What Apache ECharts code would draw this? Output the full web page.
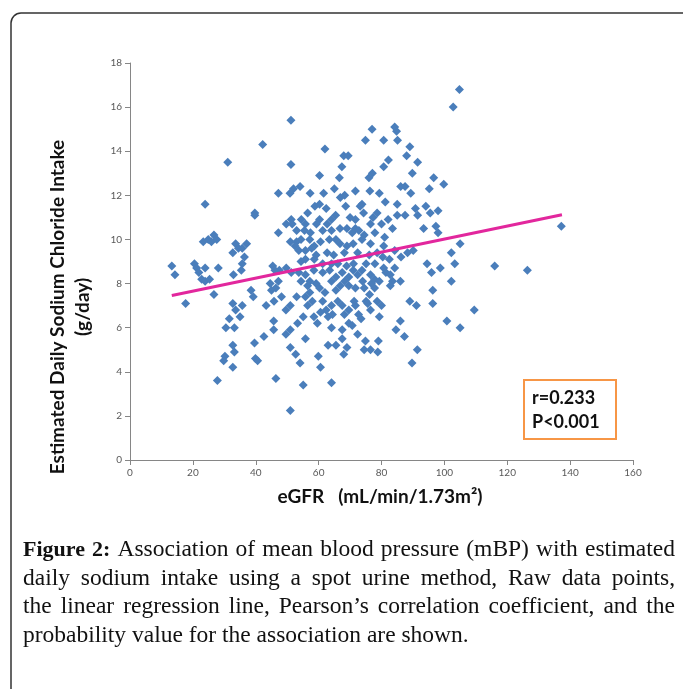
<!DOCTYPE html>
<html><head><meta charset="utf-8">
<script src="https://cdn.jsdelivr.net/npm/echarts@6/dist/echarts.min.js"></script>
<style>html,body{margin:0;padding:0;background:#fff;}#c{width:683px;height:689px;}</style>
</head><body><div id="c"></div>
<script>
// eGFR values (x) and estimated daily NaCl intake (y)
const egfr = [104.8,102.8,51.2,84.2,84.8,77,74.9,80.7,85.1,42.2,62,89,31.1,51.2,68,69.4,88,91.5,82.2,80.7,67.4,77.1,89.8,60.3,96.6,99.8,66.6,76,86.1,87.5,52,54.1,65,71.7,76.3,79.3,47.2,57.3,50.9,61.6,89.3,95.2,66.9,68.3,23.9,81.2,85,73.8,73.2,58.8,60.3,62.4,68.6,94.1,98,39.7,39.7,56.5,65.4,70,74.3,78.6,77.3,85,87.5,90.8,91.5,95.5,54.5,51.3,49.7,51.6,60.3,71.7,82.1,76.5,80,137.2,93.4,97.3,98,47.2,53,55.5,57.4,61.3,64.1,66.8,71.7,72.8,70.7,81,26.7,24.9,27.6,23.3,25.9,33.6,37.1,34.5,32.7,35.7,51,53,52.5,54.4,57.2,58.6,60.6,63.4,65.5,66.8,69,71,73.8,76.5,80.7,105,102.2,103.3,90.1,88.3,84.2,53.7,55.8,57.8,59.2,62.7,64.8,68.2,72.4,76.1,78.6,80.4,82.5,86.2,94.5,98.7,95.9,116,126.4,13.3,14.3,17.7,20.5,21.2,21.9,23.9,22.8,23.9,25.3,28.1,26.7,32.9,35.7,35.4,38.5,39.2,32.7,33.6,35.7,35,31.6,30.5,33.2,32.7,33.2,30.2,29.8,32.7,27.8,39.6,39.9,40.6,42.6,46.4,45.7,45.7,49.6,51,51,52.7,54.1,55.1,51,53.3,55.8,55.1,59.9,60.6,64.1,64.1,63,65.5,67.5,68,69,67.5,69.6,72.4,74.9,74.5,76.5,79,78.8,84.6,86,87.3,89.7,91.4,100.8,105,109.5,89,91.1,96.3,96.3,102.2,83.5,86,81.4,82.8,84.2,79.3,76.5,75.1,76.2,77.8,76.8,74,72.4,73.8,71,69.6,68.9,68.3,66.9,65.5,66.1,67.5,69.6,71.7,72.7,73.5,71.3,70.7,61.3,62.4,60.6,63,58.5,59.6,56.5,57.2,55.8,59.2,60.3,62,64.1,65.5,63.5,61.3,58.5,55.8,53.7,51.3,49.7,47.5,45.4,46.1,47.2,46.4,45,48.2,45.8,44.6,54.4,55.8,75.1,76.5,77.8,71.1,66.1,67.5,61.3,64.1,58.6,69.6,71.7,74.5,75.6,78.6,80,54.4,57.2,53,51,49.6,56.5,58,64.1,68.2,64.4,55.8,62.7,64.1,59.3,69,74.5,77.9,83.5,77.9,80.7,82.8,79.3,36.4,43.3];
const sodium = [16.8,16.0,15.4,15.1,14.9,15.0,14.5,14.5,14.5,14.3,14.1,14.2,13.5,13.4,13.8,13.8,13.8,13.5,13.6,13.3,13.3,13.0,13.0,12.9,12.8,12.5,12.8,12.8,12.4,12.4,12.3,12.4,12.3,12.2,12.2,12.1,12.1,12.1,12.1,12.1,12.1,12.3,11.9,12.0,11.6,11.7,11.6,11.6,11.5,11.5,11.6,11.4,11.5,11.5,11.3,11.2,11.1,11.2,11.1,11.0,11.2,11.2,11.0,11.1,11.1,11.4,11.1,11.2,10.9,10.9,10.7,10.7,10.9,10.9,10.9,10.7,10.7,10.6,10.5,10.6,10.3,10.3,10.4,10.4,10.3,10.4,10.4,10.5,10.5,10.4,10.3,10.1,10.2,10.0,10.0,9.9,9.9,9.8,9.8,9.6,9.4,9.6,9.9,9.9,9.7,10.0,10.0,9.7,9.9,10.0,10.0,9.8,9.7,9.8,10.0,9.8,9.7,9.8,9.4,8.9,9.5,9.4,9.5,9.5,9.5,9.6,9.3,9.4,9.3,9.4,9.4,9.3,9.4,9.2,9.1,9.2,8.9,8.7,8.5,8.8,8.6,8.8,8.4,7.1,8.9,8.7,8.5,8.7,8.2,8.1,8.2,8.7,7.5,8.4,8.9,8.6,7.7,7.4,7.1,6.8,7.0,6.5,6.4,6.0,6.0,5.2,4.9,4.7,4.5,4.2,3.6,5.3,4.6,4.5,5.6,3.7,5.9,6.3,5.7,5.9,5.1,4.8,4.4,3.4,2.25,6.2,5.5,6.5,4.7,4.2,3.5,6.0,5.2,5.2,5.5,4.8,5.1,5.9,6.2,5.7,5.4,5.0,5.0,5.4,4.9,5.9,6.3,5.6,4.4,5.0,6.3,6.0,6.8,7.2,7.0,7.1,7.7,8.1,8.1,8.1,8.5,8.4,8.7,6.5,6.8,7.2,7.5,7.8,8.0,8.1,8.4,8.6,8.6,8.3,8.8,8.1,7.9,7.7,7.2,7.0,6.8,7.0,6.6,6.4,7.2,6.1,7.2,6.8,6.7,6.5,6.5,6.2,7.9,7.6,7.4,8.0,7.8,7.6,8.1,8.3,8.6,8.5,8.6,8.4,8.5,8.5,8.7,8.6,8.8,8.6,8.1,7.8,7.7,7.4,7.2,8.0,9.0,9.1,8.9,8.4,8.2,8.9,8.9,8.5,8.9,8.9,9.1,7.9,7.8,7.8,7.1,7.2,7.0,8.1,8.1,7.4,7.0,6.8,7.0,7.2,7.0,6.6,6.6,10.7,10.7,10.9,10.7,10.5,10.2,10.3,10.5,8.9,8.7,7.9,8.1,9.2,7.0];
// regression line end points
const fitX = [13.3, 137.4];
const fitY = [7.46, 11.12];
const xTicks = [0,20,40,60,80,100,120,140,160];
const yTicks = [0,2,4,6,8,10,12,14,16,18];
const captionLines = [
  "Figure 2: Association of mean blood pressure (mBP) with estimated",
  "daily sodium intake using a spot urine method, Raw data points,",
  "the linear regression line, Pearson\u2019s correlation coefficient, and the",
  "probability value for the association are shown."
];

const chart = echarts.init(document.getElementById('c'));
const pts = egfr.map((x,i)=>[x, sodium[i]]);
const fit = fitX.map((x,i)=>[x, fitY[i]]);

// caption words with justification
const ctx = document.createElement('canvas').getContext('2d');
const capFont = '23.5px "Liberation Serif"';
const capBold = 'bold 22px "Liberation Serif"';
const capLeft = 23, capRight = 675;
const capY = [550, 578.5, 607, 636];
const capEls = [];
captionLines.forEach((line, li) => {
  const words = line.split(' ');
  const fonts = words.map((w, wi) => (li === 0 && wi < 2) ? capBold : capFont);
  const widths = words.map((w, wi) => { ctx.font = fonts[wi]; return ctx.measureText(w).width; });
  const total = widths.reduce((a,b)=>a+b,0);
  let gap;
  if (li === captionLines.length - 1) { ctx.font = capFont; gap = ctx.measureText(' ').width; }
  else gap = (capRight - capLeft - total) / (words.length - 1);
  let x = capLeft;
  words.forEach((w, wi) => {
    capEls.push({type:'text', x: x, y: capY[li], style:{text:w, font: fonts[wi], fill:'#111', textVerticalAlign:'middle'}});
    x += widths[wi] + gap;
  });
});

const option = {
  animation: false,
  backgroundColor: '#fff',
  grid: {left:130, top:63, width:503, height:397},
  xAxis: {
    type:'value', min: xTicks[0], max: xTicks[xTicks.length-1], interval: 20,
    splitLine:{show:false},
    axisLine:{lineStyle:{color:'#868686', width:1}},
    axisTick:{show:true, length:5, lineStyle:{color:'#868686'}},
    axisLabel:{color:'#595959', fontSize:10, fontFamily:'Lato', margin:8}
  },
  yAxis: {
    type:'value', min: yTicks[0], max: yTicks[yTicks.length-1], interval: 2,
    splitLine:{show:false},
    axisLine:{show:true, lineStyle:{color:'#868686', width:1}},
    axisTick:{show:true, length:5, lineStyle:{color:'#868686'}},
    axisLabel:{color:'#595959', fontSize:10, fontFamily:'Lato', margin:8}
  },
  series: [
    {type:'scatter', data: pts, symbol:'diamond', symbolSize:9, itemStyle:{color:'#4A7EBB', opacity:1}, z:2},
    {type:'line', data: fit, showSymbol:false, symbol:'none', lineStyle:{color:'#E2279D', width:3}, z:3}
  ],
  graphic: [
    {type:'rect', shape:{x:11, y:13, width:720, height:720, r:[10,0,0,0]}, style:{fill:'none', stroke:'#333', lineWidth:1.5}, z:0},
    {type:'text', x:58, y:307, rotation:Math.PI/2, style:{text:'Estimated Daily Sodium Chloride Intake', font:'bold 19px Lato', fill:'#111', textAlign:'center', textVerticalAlign:'middle'}},
    {type:'text', x:83, y:307, rotation:Math.PI/2, style:{text:'(g/day)', font:'bold 19px Lato', fill:'#111', textAlign:'center', textVerticalAlign:'middle'}},
    {type:'text', x:380, y:497, style:{text:'eGFR   (mL/min/1.73m\u00B2)', font:'bold 19px Lato', fill:'#111', textAlign:'center', textVerticalAlign:'middle'}},
    {type:'rect', shape:{x:524, y:380, width:92, height:59}, style:{fill:'#fff', stroke:'#F79646', lineWidth:2}, z:10},
    {type:'text', x:532, y:398, style:{text:'r=0.233', font:'bold 18px Lato', fill:'#111', textVerticalAlign:'middle'}, z:11},
    {type:'text', x:532, y:422, style:{text:'P<0.001', font:'bold 18px Lato', fill:'#111', textVerticalAlign:'middle'}, z:11}
  ].concat(capEls)
};
chart.setOption(option);
</script></body></html>
